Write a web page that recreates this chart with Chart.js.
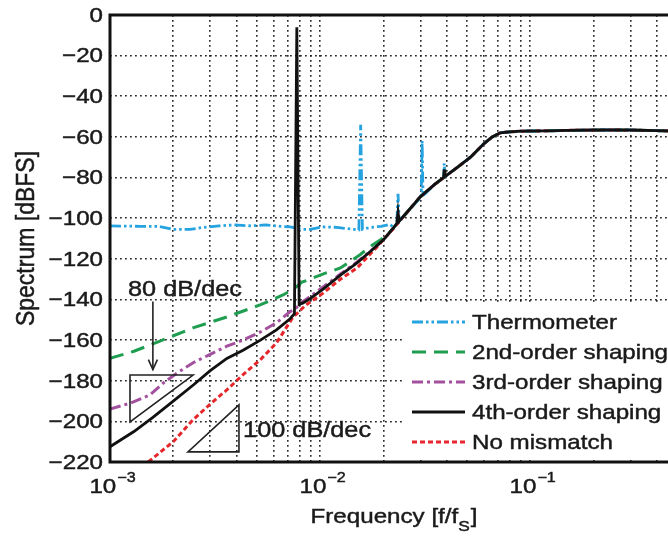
<!DOCTYPE html>
<html><head><meta charset="utf-8">
<script src="https://cdn.jsdelivr.net/npm/chart.js@4.4.1/dist/chart.umd.min.js"></script>
<style>
html,body{margin:0;padding:0;overflow:hidden;background:#fff;width:668px;height:536px}
#wrap{width:690px;height:536px}
</style></head>
<body><div id="wrap"><canvas id="c" width="690" height="536"></canvas></div>
<script>
// ---------- data ----------
const seriesNames = ['Thermometer', '2nd-order shaping', '3rd-order shaping', '4th-order shaping', 'No mismatch'];

const thermoF  = [1e-3, 1.4e-3, 1.7e-3, 2.0e-3, 2.4e-3, 2.8e-3, 3.3e-3, 3.9e-3, 4.7e-3, 5.5e-3, 6.5e-3, 7.2e-3, 8.2e-3, 9.0e-3, 0.0103, 0.012, 0.0145, 0.0153, 0.0156, 0.0159, 0.0175, 0.0195, 0.0215, 0.0224, 0.0232, 0.0235, 0.0238, 0.027, 0.0303, 0.0306, 0.0309, 0.035, 0.0387, 0.039, 0.0393, 0.045, 0.052, 0.06, 0.066, 0.072, 0.08, 0.09, 0.12, 0.15, 0.2, 0.25, 0.3, 0.4, 0.5];
const thermoDb = [-103.8, -104, -104, -105.5, -105.5, -104.5, -103.8, -103.3, -103.8, -103.3, -104, -104.3, -105.5, -105.5, -104.3, -104.5, -105.5, -105.8, -54, -105.5, -104.5, -104, -103, -104.7, -102.5, -88, -101.5, -95, -89.5, -62, -89, -83.5, -80, -73, -79.5, -75, -70, -63.5, -60, -58, -57.5, -57.2, -57, -56.8, -56.6, -56.6, -56.6, -56.9, -57.2];

const second2F  = [1e-3, 1.3e-3, 1.73e-3, 2.48e-3, 3.6e-3, 5.18e-3, 6.66e-3, 7.45e-3, 8.2e-3, 8.95e-3, 0.0103, 0.0125, 0.0155, 0.0173, 0.0195, 0.021, 0.0224, 0.027, 0.03, 0.035, 0.045, 0.052, 0.06, 0.066, 0.072, 0.08, 0.09, 0.15, 0.25, 0.4, 0.5];
const second2Db = [-169, -165.5, -160.5, -154, -148.6, -142.7, -137.8, -135, -131.5, -130, -127.5, -124.5, -118, -114, -110.5, -108, -104.7, -95, -89.5, -83.5, -75, -70, -63.5, -60, -58, -57.5, -57.2, -56.8, -56.6, -56.9, -57.2];

const third3F  = [1e-3, 1.25e-3, 1.55e-3, 1.8e-3, 2.1e-3, 2.5e-3, 3e-3, 3.6e-3, 4.3e-3, 5.2e-3, 6.2e-3, 7.2e-3, 7.55e-3, 8.3e-3, 9e-3, 0.0103, 0.0125, 0.015, 0.0175, 0.02, 0.0224, 0.027, 0.03, 0.035, 0.045, 0.052, 0.06, 0.066, 0.072, 0.08, 0.09, 0.15, 0.25, 0.4, 0.5];
const third3Db = [-194, -191, -187, -181, -176, -171, -167, -163, -160, -156, -151.5, -146, -145, -141, -138.5, -134, -127.5, -121.5, -116, -110.7, -104.7, -95, -89.5, -83.5, -75, -70, -63.5, -60, -58, -57.5, -57.2, -56.8, -56.6, -56.9, -57.2];

const fourth4F  = [1e-3, 1.3e-3, 1.6e-3, 2e-3, 2.5e-3, 3e-3, 3.6e-3, 4.3e-3, 5.2e-3, 6.2e-3, 7.2e-3, 7.55e-3, 7.75e-3, 7.95e-3, 8.3e-3, 9e-3, 0.0103, 0.0125, 0.015, 0.0175, 0.02, 0.0224, 0.0232, 0.0235, 0.0238, 0.027, 0.03, 0.035, 0.0387, 0.039, 0.0393, 0.045, 0.052, 0.06, 0.066, 0.072, 0.08, 0.09, 0.12, 0.15, 0.2, 0.25, 0.3, 0.4, 0.5];
const fourth4Db = [-212.5, -205, -198, -190, -182, -175, -169, -165, -160, -155, -149.5, -147, -6, -142.5, -141.7, -139.5, -135, -128, -122, -116, -110.7, -104.7, -102.5, -97, -101.5, -95, -89.5, -83.5, -80, -76, -79.5, -75, -70, -63.5, -60, -58, -57.5, -57.2, -57, -56.8, -56.6, -56.6, -56.6, -56.9, -57.2];

const noMisF  = [1.52e-3, 2e-3, 2.48e-3, 3e-3, 3.6e-3, 4.3e-3, 5.18e-3, 6.2e-3, 7.4e-3, 8.5e-3, 0.0103, 0.0125, 0.015, 0.0187, 0.0224, 0.027, 0.03, 0.035, 0.045, 0.052, 0.06, 0.066, 0.072, 0.08, 0.09, 0.15, 0.25, 0.4, 0.5];
const noMisDb = [-220, -210, -199.3, -191.5, -184.5, -177, -169.8, -161.4, -149, -143, -137, -130, -124.5, -114, -105, -95, -89.5, -83.5, -75, -70, -63.5, -60, -58, -57.5, -57.2, -56.8, -56.6, -56.9, -57.2];

const xMin = 1e-3, xMax = 0.5;
const yMin = -220, yMax = 0, yStep = 20;
const yTickValues = [0, -20, -40, -60, -80, -100, -120, -140, -160, -180, -200, -220];
const xDecades = [1e-3, 1e-2, 1e-1];
const xTickExponents = ['\u22123', '\u22122', '\u22121'];
const slopeLabels = ['80 dB/dec', '100 dB/dec'];
const yTitle = 'Spectrum [dBFS]';
const xTitleMain = 'Frequency [f/f', xTitleSub = 'S', xTitleEnd = ']';

// ---------- helpers ----------
const FONT = '"Liberation Sans", Arial, Helvetica, sans-serif';
const STRETCH = 1.15;   // reference text is horizontally wide
const INK = '#1a1a1a';
const pts = (f, d) => f.map((x, i) => ({x, y: d[i]}));
const xGridTicks = [];
xDecades.forEach(dec => { for (let m = 1; m <= 9; m++) { const v = m * dec; if (v <= xMax * 1.0001) xGridTicks.push(v); } });

function txt(ctx, s, x, y, size, align, baseline) {
  ctx.save();
  ctx.translate(x, y);
  ctx.scale(STRETCH, 1);
  ctx.font = size + 'px ' + FONT;
  ctx.textAlign = align; ctx.textBaseline = baseline;
  ctx.fillStyle = INK; ctx.strokeStyle = INK; ctx.lineWidth = 0.45;
  ctx.fillText(s, 0, 0);
  ctx.strokeText(s, 0, 0);
  ctx.restore();
}
function tw(ctx, s, size) { ctx.font = size + 'px ' + FONT; return ctx.measureText(s).width * STRETCH; }

const decor = {
  id: 'decor',
  beforeDatasetsDraw(chart) {
    const {ctx, chartArea: a} = chart;
    ctx.save();
    ctx.fillStyle = '#fff';
    ctx.fillRect(405, 305, a.right - 405, 154);
    chart.data.datasets.forEach((ds, i) => {
      const y = 322 + 30 * i;
      ctx.save();
      ctx.strokeStyle = ds.borderColor;
      ctx.lineWidth = ds.borderWidth;
      ctx.setLineDash(ds.borderDash || []);
      ctx.beginPath(); ctx.moveTo(412, y); ctx.lineTo(465, y); ctx.stroke();
      ctx.restore();
      txt(ctx, ds.label, 472, y + 1, 21, 'left', 'middle');
    });
    ctx.restore();
  },
  afterDatasetsDraw(chart) {
    const {ctx, chartArea: a, scales: {x, y}} = chart;
    const px = v => x.getPixelForValue(v), py = v => y.getPixelForValue(v);
    ctx.save();
    ctx.strokeStyle = '#111'; ctx.lineWidth = 3;
    ctx.strokeRect(a.left, a.top, a.right - a.left, a.bottom - a.top);
    ctx.lineWidth = 1.6; ctx.strokeStyle = '#222';
    ctx.beginPath();
    ctx.moveTo(px(1.245e-3), py(-177.2)); ctx.lineTo(px(2.486e-3), py(-177.2)); ctx.lineTo(px(1.245e-3), py(-200.3)); ctx.closePath();
    ctx.stroke();
    ctx.beginPath();
    ctx.moveTo(px(2.35e-3), py(-215)); ctx.lineTo(px(4.11e-3), py(-215)); ctx.lineTo(px(4.11e-3), py(-191.9)); ctx.closePath();
    ctx.stroke();
    const ax = px(1.6e-3), ay1 = py(-141), ay2 = py(-174.5);
    ctx.beginPath(); ctx.moveTo(ax, ay1); ctx.lineTo(ax, ay2); ctx.stroke();
    ctx.beginPath(); ctx.moveTo(ax - 4.5, ay2 - 10); ctx.lineTo(ax, ay2); ctx.lineTo(ax + 4.5, ay2 - 10); ctx.stroke();
    txt(ctx, slopeLabels[0], px(1.218e-3), py(-138.3), 22, 'left', 'alphabetic');
    txt(ctx, slopeLabels[1], px(4.3e-3), py(-207.7), 22, 'left', 'alphabetic');
    ctx.restore();
  },
  afterDraw(chart) {
    const {ctx, chartArea: a, scales: {x, y}} = chart;
    ctx.save();
    yTickValues.forEach(v => {
      txt(ctx, v === 0 ? '0' : '\u2212' + Math.abs(v), 103, y.getPixelForValue(v) + 1, 21, 'right', 'middle');
    });
    xDecades.forEach((v, i) => {
      const cx = x.getPixelForValue(v);
      const w1 = tw(ctx, '10', 21), w2 = tw(ctx, xTickExponents[i], 14);
      const sx = cx - (w1 + w2) / 2 + 2;
      txt(ctx, '10', sx, 493, 21, 'left', 'alphabetic');
      txt(ctx, xTickExponents[i], sx + w1 + 1, 482, 14, 'left', 'alphabetic');
    });
    const wa = tw(ctx, xTitleMain, 21), wb = tw(ctx, xTitleSub, 15), wc = tw(ctx, xTitleEnd, 21);
    const sx = (a.left + a.right) / 2 - (wa + wb + wc) / 2;
    txt(ctx, xTitleMain, sx, 523, 21, 'left', 'alphabetic');
    txt(ctx, xTitleSub, sx + wa, 531, 15, 'left', 'alphabetic');
    txt(ctx, xTitleEnd, sx + wa + wb + 1, 523, 21, 'left', 'alphabetic');
    ctx.save();
    ctx.translate(34, (a.top + a.bottom) / 2);
    ctx.scale(STRETCH, 1);
    ctx.rotate(-Math.PI / 2);
    ctx.textAlign = 'center'; ctx.textBaseline = 'alphabetic';
    ctx.font = '23px ' + FONT; ctx.fillStyle = INK; ctx.strokeStyle = INK; ctx.lineWidth = 0.45;
    ctx.fillText(yTitle, 0, 0);
    ctx.strokeText(yTitle, 0, 0);
    ctx.restore();
    ctx.restore();
  }
};

const gridCfg = {color: 'rgba(20,20,20,0.9)', lineWidth: 1.6, drawTicks: false};
const borderCfg = {display: false, dash: [1.8, 3.2]};

new Chart(document.getElementById('c'), {
  type: 'line',
  data: {
    datasets: [
      {label: seriesNames[0], data: pts(thermoF, thermoDb), borderColor: '#24a3e0', borderWidth: 2.8, borderDash: [11, 3, 2.5, 3, 2.5, 3], order: 1},
      {label: seriesNames[1], data: pts(second2F, second2Db), borderColor: '#1f9d50', borderWidth: 3, borderDash: [14, 8], order: 3},
      {label: seriesNames[2], data: pts(third3F, third3Db), borderColor: '#a3519e', borderWidth: 3, borderDash: [11, 4, 3, 4], order: 4},
      {label: seriesNames[3], data: pts(fourth4F, fourth4Db), borderColor: '#111111', borderWidth: 2.8, borderDash: [], order: 0},
      {label: seriesNames[4], data: pts(noMisF, noMisDb), borderColor: '#e5262b', borderWidth: 3, borderDash: [5, 3], order: 2}
    ]
  },
  options: {
    responsive: false, animation: false, devicePixelRatio: 1,
    layout: {padding: {top: 15, right: 13, left: 0, bottom: 0}},
    elements: {point: {radius: 0}, line: {tension: 0, fill: false, borderCapStyle: 'butt', borderJoinStyle: 'miter'}},
    plugins: {legend: {display: false}, tooltip: {enabled: false}},
    scales: {
      x: {
        type: 'logarithmic', min: xMin, max: xMax,
        afterBuildTicks: s => { s.ticks = xGridTicks.map(v => ({value: v})); },
        afterFit: s => { s.height = 74; },
        ticks: {display: false},
        grid: gridCfg, border: borderCfg
      },
      y: {
        min: yMin, max: yMax,
        ticks: {stepSize: yStep, display: false},
        afterFit: s => { s.width = 110; },
        grid: gridCfg, border: borderCfg
      }
    }
  },
  plugins: [decor]
});
</script>
</body></html>
